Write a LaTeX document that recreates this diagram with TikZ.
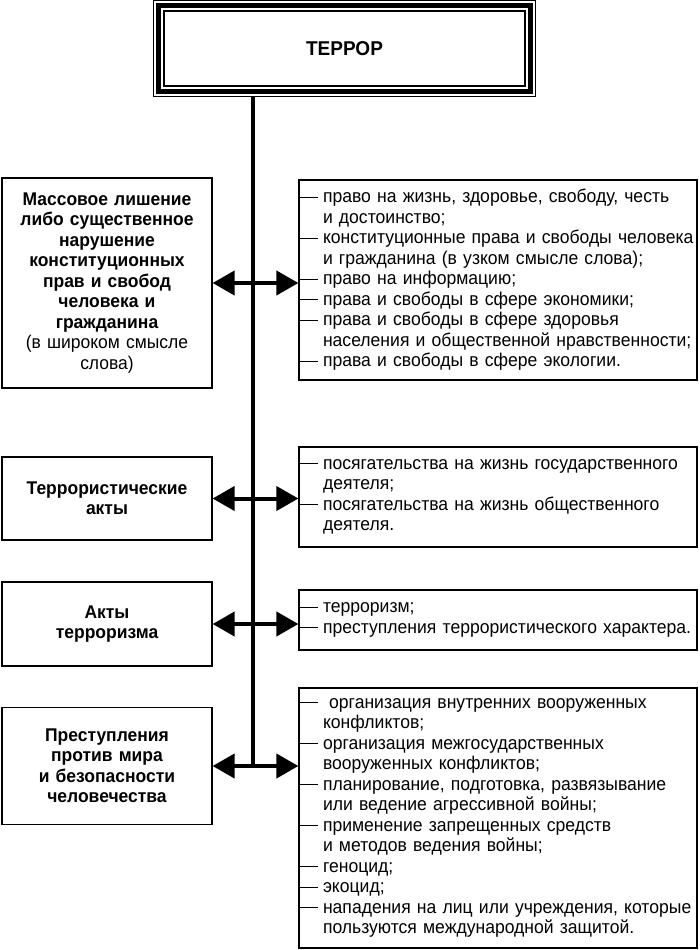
\documentclass[tikz,border=0pt]{standalone}
\usepackage{fontspec}
\setmainfont{Liberation Sans}[FakeStretch=0.95]
\usetikzlibrary{arrows.meta,calc}
\newcommand{\itm}[1]{\hspace*{24pt}\llap{\rule[0.27em]{19pt}{1pt}\hspace{5pt}}\mbox{#1}}
\newcommand{\cnt}[1]{\hspace*{24pt}\mbox{#1}}
\begin{document}
\begin{tikzpicture}[x=1pt,y=-1pt,
	lbox/.style={draw, line width=1.2pt, text width=200pt, inner xsep=5pt, inner ysep=0pt, align=center, font=\fontsize{18.4}{20.5}\selectfont\bfseries},
	rbox/.style={draw, line width=1.2pt, text width=398pt, inner sep=0pt, align=left, font=\fontsize{18.5}{20.5}\selectfont},
	biarrow/.style={line width=4pt, {Triangle[length=22pt,width=24pt]}-{Triangle[length=22pt,width=24pt]}},
	trunk/.style={line width=3.5pt}]
	\useasboundingbox (0,0) rectangle (700,950);
	% top box with triple frame
	\node (T) at (344.5,48.5) [draw, line width=1.2pt, minimum width=382pt, minimum height=96pt, font=\fontsize{20}{22}\selectfont\bfseries] {ТЕРРОР};
	\draw[line width=5pt] ($(T.north west)+(5.5,5.5)$) rectangle ($(T.south east)+(-5.5,-5.5)$);
	\draw[line width=1.5pt] ($(T.north west)+(11,11)$) rectangle ($(T.south east)+(-11,-11)$);
	% left column
	\node (L1) at (107,283)   [lbox, minimum height=210pt] {Массовое лишение\\ либо существенное\\ нарушение\\ конституционных\\ прав и свобод\\ человека и\\ гражданина\\ \mdseries (в широком смысле\\ слова)};
	\node (L2) at (107,498.5) [lbox, minimum height=83pt]  {Террористические\\ акты};
	\node (L3) at (107,624)   [lbox, minimum height=84pt]  {Акты\\ терроризма};
	\node (L4) at (107,766)   [lbox, minimum height=117pt] {Преступления\\ против мира\\ и безопасности\\ человечества};
	% right column
	\node (R1) at (498,280) [rbox, minimum height=200pt] {\itm{право на жизнь, здоровье, свободу, честь}\\ \cnt{и достоинство;}\\ \itm{конституционные права и свободы человека}\\ \cnt{и гражданина (в узком смысле слова);}\\ \itm{право на информацию;}\\ \itm{права и свободы в сфере экономики;}\\ \itm{права и свободы в сфере здоровья}\\ \cnt{населения и общественной нравственности;}\\ \itm{права и свободы в сфере экологии.}};
	\node (R2) at (498,497) [rbox, minimum height=100pt] {\itm{посягательства на жизнь государственного}\\ \cnt{деятеля;}\\ \itm{посягательства на жизнь общественного}\\ \cnt{деятеля.}};
	\node (R3) at (498,620) [rbox, minimum height=60pt]  {\itm{терроризм;}\\ \itm{преступления террористического характера.}};
	\node (R4) at (498,818) [rbox, minimum height=260pt] {\itm{ организация внутренних вооруженных}\\ \cnt{конфликтов;}\\ \itm{организация межгосударственных}\\ \cnt{вооруженных конфликтов;}\\ \itm{планирование, подготовка, развязывание}\\ \cnt{или ведение агрессивной войны;}\\ \itm{применение запрещенных средств}\\ \cnt{и методов ведения войны;}\\ \itm{геноцид;}\\ \itm{экоцид;}\\ \itm{нападения на лиц или учреждения, которые}\\ \cnt{пользуются международной защитой.}};
	% trunk and arrows
	\coordinate (B) at (253,766);
	\draw[trunk] (T.south -| B) -- (B);
	\draw[biarrow] (L1.east) -- (L1.east -| R1.west);
	\draw[biarrow] (L2.east) -- (L2.east -| R2.west);
	\draw[biarrow] (L3.east) -- (L3.east -| R3.west);
	\draw[biarrow] (L4.east) -- (L4.east -| R4.west);
\end{tikzpicture}
\end{document}
